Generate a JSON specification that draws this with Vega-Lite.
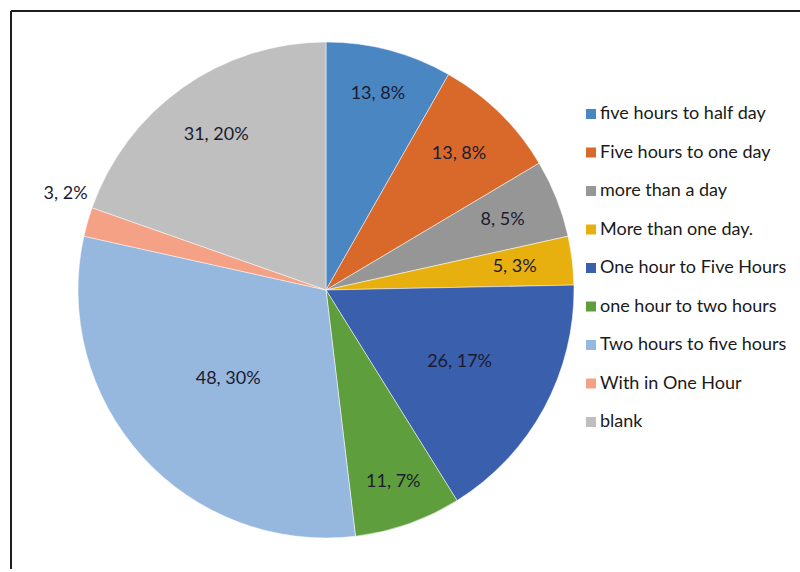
{
  "$schema": "https://vega.github.io/schema/vega-lite/v6.json",
  "padding": {"left": 10, "top": 10, "right": 0, "bottom": 0},
  "background": "white",
  "spacing": 0,
  "bounds": "flush",
  "config": {"font": "Lato"},
  "hconcat": [
    {
      "width": 630,
      "height": 558,
      "view": {"stroke": "#1e1e1e", "strokeWidth": 2, "strokeDash": [630, 1188, 558, 0]},
      "data": {
        "values": [
          {"k": 1, "category": "five hours to half day", "count": 13, "label": "13, 8%"},
          {"k": 2, "category": "Five hours to one day", "count": 13, "label": "13, 8%"},
          {"k": 3, "category": "more than a day", "count": 8, "label": "8, 5%"},
          {"k": 4, "category": "More than one day.", "count": 5, "label": "5, 3%"},
          {"k": 5, "category": "One hour to Five Hours", "count": 26, "label": "26, 17%"},
          {"k": 6, "category": "one hour to two hours", "count": 11, "label": "11, 7%"},
          {"k": 7, "category": "Two hours to five hours", "count": 48, "label": "48, 30%"},
          {"k": 8, "category": "With in One Hour", "count": 3, "label": "3, 2%"},
          {"k": 9, "category": "blank", "count": 31, "label": "31, 20%"}
        ]
      },
      "transform": [
        {"stack": "count", "groupby": [], "sort": [{"field": "k", "order": "ascending"}], "as": ["t0", "t1"]},
        {"calculate": "(datum.t0 + datum.t1) / 2", "as": "mid"}
      ],
      "layer": [
        {
          "mark": {"type": "arc", "outerRadius": 248, "stroke": "white", "strokeWidth": 0.5},
          "encoding": {
            "theta": {"field": "t0", "type": "quantitative", "scale": {"domain": [0, 158]}},
            "theta2": {"field": "t1"},
            "color": {
              "field": "category",
              "type": "nominal",
              "scale": {
                "domain": ["five hours to half day", "Five hours to one day", "more than a day", "More than one day.", "One hour to Five Hours", "one hour to two hours", "Two hours to five hours", "With in One Hour", "blank"],
                "range": ["#4A86C2", "#D9692B", "#969696", "#E8B00F", "#3A5FAD", "#5F9E3C", "#96B7DE", "#F4A185", "#BFBFBF"]
              },
              "legend": {
                "orient": "none",
                "legendX": 571,
                "legendY": 94,
                "title": null,
                "symbolType": "square",
                "symbolSize": 100,
                "symbolStrokeWidth": 0,
                "labelFontSize": 18,
                "labelColor": "#1a1a1a",
                "labelOffset": 0,
                "rowPadding": 20.5,
                "labelLimit": 300
              }
            }
          }
        },
        {
          "transform": [{"filter": "datum.k == 1 || datum.k == 6"}],
          "mark": {"type": "text", "radius": 203, "fontSize": 18, "color": "#1b1b2f"},
          "encoding": {
            "theta": {"field": "mid", "type": "quantitative"},
            "text": {"field": "label"}
          }
        },
        {
          "transform": [{"filter": "datum.k == 2 || datum.k == 3 || datum.k == 4 || datum.k == 9"}],
          "mark": {"type": "text", "radius": 190, "fontSize": 18, "color": "#1b1b2f"},
          "encoding": {
            "theta": {"field": "mid", "type": "quantitative"},
            "text": {"field": "label"}
          }
        },
        {
          "transform": [{"filter": "datum.k == 5"}],
          "mark": {"type": "text", "radius": 152, "fontSize": 18, "color": "#1b1b2f"},
          "encoding": {
            "theta": {"field": "mid", "type": "quantitative"},
            "text": {"field": "label"}
          }
        },
        {
          "transform": [{"filter": "datum.k == 7"}],
          "mark": {"type": "text", "radius": 132, "fontSize": 18, "color": "#1b1b2f"},
          "encoding": {
            "theta": {"field": "mid", "type": "quantitative"},
            "text": {"field": "label"}
          }
        },
        {
          "transform": [{"filter": "datum.k == 8"}],
          "mark": {"type": "text", "radius": 275, "fontSize": 18, "color": "#1b1b2f", "dy": -20, "dx": 4},
          "encoding": {
            "theta": {"field": "mid", "type": "quantitative"},
            "text": {"field": "label"}
          }
        }
      ]
    },
    {
      "width": 160,
      "height": 558,
      "view": {"stroke": "#1e1e1e", "strokeWidth": 2, "strokeDash": [160, 3000]},
      "data": {"values": [{"k": 0}]},
      "mark": {"type": "point", "opacity": 0},
      "encoding": {}
    }
  ]
}
